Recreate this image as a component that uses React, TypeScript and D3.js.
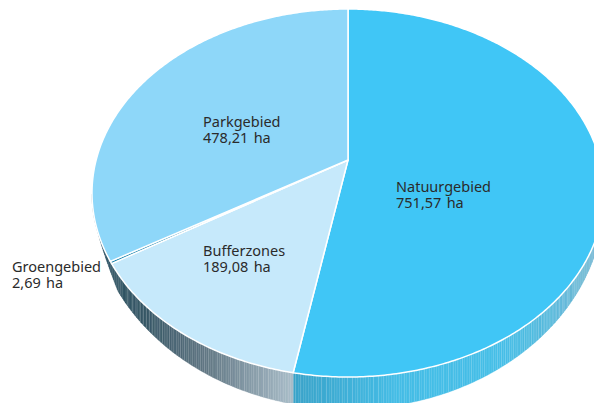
import * as d3 from "d3";
import React from "react";

const categories = ["Natuurgebied", "Bufferzones", "Groengebied", "Parkgebied"];
const areas = [751.57, 189.08, 2.69, 478.21];
const areaLabels = ["751,57 ha", "189,08 ha", "2,69 ha", "478,21 ha"];
const topColors = ["#40c6f6", "#c6e9fb", "#1b84ad", "#8ed7f9"];
const wallStops = [
  ["#3aa3c9", "#45bde6", "#46bfe8", "#6fb4cf"],
  ["#1f4656", "#5f7582", "#a9bdc9"],
  ["#173f52", "#173f52"],
  ["#1c4558", "#1c4558"],
];
const labelPos: [number, number][] = [[396, 192], [203, 256], [12, 272], [203, 127]];

// top face is a tilted circle, so the centre sits above the ellipse centre
const apexY = 160;
const farY = 9;
const nearY = 377;
const halfW = 256;
const k = (2 * apexY - farY - nearY) / -(farY - nearY) * -1;
const b = farY * (1 + k) - apexY;
const c = halfW * Math.sqrt(1 - k * k);
const cx = 348;

const project = (a: number): [number, number] => {
  const s = Math.sin(a);
  const t = Math.cos(a);
  const w = 1 + k * t;
  return [cx + (c * s) / w, (apexY + b * t) / w];
};

// lower rim of the wall, same width as the top ellipse, tapering out on the far left
const midY = (farY + nearY) / 2;
const halfH = (nearY - farY) / 2;
const taper = d3.scaleLinear().domain([98, 118]).range([0, 1]).clamp(true);
const lowerY = (x: number, y: number) => y + (199 + (210 / halfH) * (y - midY) - y) * taper(x);

const pie = d3.pie<number>().sort(null).value((d) => d);
const arcs = pie(areas);
const line = d3.line();

const wedgePath = (start: number, end: number) => {
  const n = Math.max(2, Math.ceil((end - start) / 0.01));
  const pts = d3.range(n + 1).map((i) => project(start + ((end - start) * i) / n));
  return line([[cx, apexY], ...pts])! + "Z";
};

const Wall = ({ start, end, stops }: { start: number; end: number; stops: string[] }) => {
  const step = 0.0085;
  const n = Math.max(1, Math.ceil((end - start) / step));
  const pts = d3.range(n + 1).map((i) => project(start + ((end - start) * i) / n));
  const xs = d3.extent(pts, (p) => p[0]) as [number, number];
  const color = d3
    .scaleLinear<string>()
    .domain(d3.range(stops.length).map((i) => xs[0] + ((xs[1] - xs[0]) * i) / Math.max(1, stops.length - 1)))
    .range(stops);
  return (
    <g>
      {pts.slice(1).map((p, i) => {
        const q = pts[i];
        if (p[1] < midY || q[1] < midY) return null;
        const d = line([q, p, [p[0], lowerY(p[0], p[1])], [q[0], lowerY(q[0], q[1])]])! + "Z";
        return (
          <path
            key={i}
            d={d}
            fill={color((p[0] + q[0]) / 2)}
            stroke={color((p[0] + q[0]) / 2)}
            strokeWidth={0.3}
          />
        );
      })}
      {pts.map((p, i) =>
        i % 2 === 0 && p[1] >= midY ? (
          <line
            key={i}
            x1={p[0]}
            y1={p[1]}
            x2={p[0]}
            y2={lowerY(p[0], p[1])}
            stroke="#fff"
            strokeOpacity={0.17}
            strokeWidth={0.7}
          />
        ) : null
      )}
    </g>
  );
};

export default function App() {
  return (
    <svg
      width={594}
      height={403}
      style={{ position: "absolute", left: 0, top: 0, background: "#fff" }}
      fontFamily="'Noto Sans', 'Open Sans', sans-serif"
      fontSize={14.5}
      fill="#2b2b2b"
    >
      {arcs.map((a, i) => (
        <Wall key={i} start={a.startAngle} end={a.endAngle} stops={wallStops[i]} />
      ))}
      {arcs.map((a, i) => (
        <path
          key={i}
          d={wedgePath(a.startAngle, a.endAngle)}
          fill={topColors[i]}
          stroke="#fff"
          strokeWidth={1.5}
          strokeLinejoin="round"
        />
      ))}
      {categories.map((name, i) => (
        <text key={name} x={labelPos[i][0]} y={labelPos[i][1]}>
          <tspan x={labelPos[i][0]}>{name}</tspan>
          <tspan x={labelPos[i][0]} dy={15.5} wordSpacing={1.5}>
            {areaLabels[i]}
          </tspan>
        </text>
      ))}
    </svg>
  );
}
